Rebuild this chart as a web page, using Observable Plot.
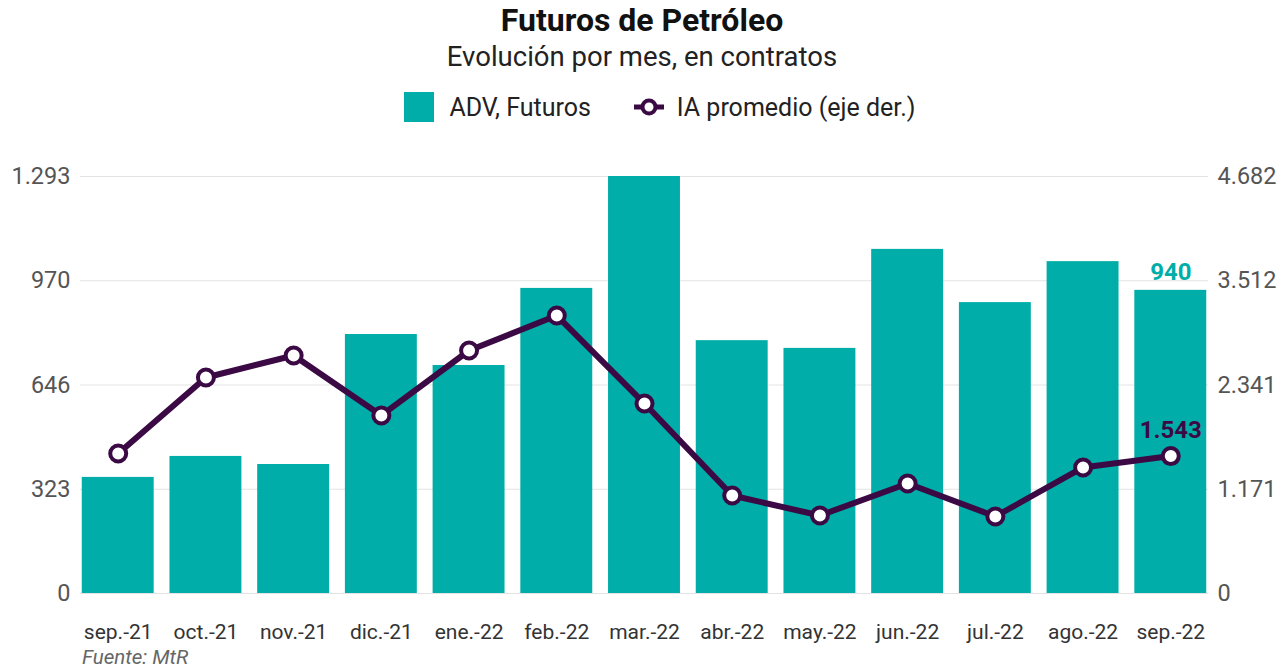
<!DOCTYPE html>
<html>
<head>
<meta charset="utf-8">
<script src="https://cdn.jsdelivr.net/npm/d3@7"></script>
<script src="https://cdn.jsdelivr.net/npm/@observablehq/plot@0.6"></script>
<style>
  body { margin: 0; background: #fff; font-family: Roboto, "Noto Sans", sans-serif; }
  #wrap { position: relative; width: 1284px; height: 667px; }
  #title { position: absolute; top: 1px; left: 0; width: 1284px; text-align: center; font-size: 32px; font-weight: 700; color: #111; }
  #subtitle { position: absolute; top: 40px; left: 0; width: 1284px; text-align: center; font-size: 27.5px; color: #222; }
  #legend { position: absolute; top: 92px; left: 18px; width: 1284px; display: flex; justify-content: center; align-items: center; font-size: 25px; color: #222; }
  .li { display: flex; align-items: center; margin: 0 21px; }
  .sw { width: 30px; height: 30px; background: #00ADA8; margin-right: 15px; }
  #chart { position: absolute; top: 130px; left: 0; }
  #caption { position: absolute; top: 645px; left: 82px; font-size: 20.5px; font-style: italic; color: #666; }
</style>
</head>
<body>
<div id="wrap">
  <div id="title">Futuros de Petróleo</div>
  <div id="subtitle">Evolución por mes, en contratos</div>
  <div id="legend">
    <div class="li"><div class="sw"></div><span>ADV, Futuros</span></div>
    <div class="li"><svg width="32" height="20" style="margin-right:12px"><line x1="1" y1="10" x2="31" y2="10" stroke="#3B0A45" stroke-width="5"/><circle cx="16" cy="10" r="6.5" fill="#fff" stroke="#3B0A45" stroke-width="4"/></svg><span>IA promedio (eje der.)</span></div>
  </div>
  <div id="chart"></div>
  <div id="caption">Fuente: MtR</div>
</div>
<script>
const months = ["sep.-21","oct.-21","nov.-21","dic.-21","ene.-22","feb.-22","mar.-22","abr.-22","may.-22","jun.-22","jul.-22","ago.-22","sep.-22"];
const adv = [360, 425, 400, 803, 707, 946, 1293, 784, 760, 1067, 902, 1029, 940];
const ia = [1572, 2425, 2672, 1999, 2728, 3121, 2133, 1100, 876, 1235, 865, 1415, 1543];
const leftMax = 1293;
const rightMax = 4682;
const leftTickLabels = ["0","323","646","970","1.293"];
const rightTickLabels = ["0","1.171","2.341","3.512","4.682"];

const teal = "#00ADA8";
const purple = "#3B0A45";
const fmt = d3.formatLocale({decimal: ",", thousands: ".", grouping: [3], currency: ["", ""]}).format(",.0f");

const data = months.map((m, i) => ({month: m, adv: adv[i], ia: ia[i], iaL: ia[i] * leftMax / rightMax}));
const tickPos = leftTickLabels.map((_, i) => leftMax * i / 4);
const last = data[data.length - 1];

const chart = Plot.plot({
  width: 1284,
  height: 515,
  marginTop: 46,
  marginBottom: 52,
  marginLeft: 80,
  marginRight: 76,
  style: {fontFamily: "Roboto, 'Noto Sans', sans-serif", background: "#fff"},
  x: {domain: months, paddingInner: 0.18, paddingOuter: 0.02, round: false},
  y: {domain: [0, leftMax]},
  marks: [
    Plot.ruleY(tickPos, {stroke: "#e3e3e3", strokeWidth: 1.2}),
    Plot.barY(data, {x: "month", y: "adv", fill: teal}),
    Plot.axisY({anchor: "left", ticks: tickPos, tickSize: 0, tickPadding: 10, tickFormat: (d, i) => leftTickLabels[i], fontSize: 23.5, color: "#555", label: null}),
    Plot.axisY({anchor: "right", ticks: tickPos, tickSize: 0, tickPadding: 9, tickFormat: (d, i) => rightTickLabels[i], fontSize: 23.5, color: "#555", label: null}),
    Plot.axisX({tickSize: 0, tickPadding: 31, fontSize: 21, color: "#333", label: null}),
    Plot.line(data, {x: "month", y: "iaL", stroke: purple, strokeWidth: 6, strokeLinejoin: "round"}),
    Plot.dot(data, {x: "month", y: "iaL", r: 8, fill: "#fff", stroke: purple, strokeWidth: 4}),
    Plot.text([last], {x: "month", y: "adv", text: d => fmt(d.adv), dy: -18, fill: teal, fontSize: 24, fontWeight: "bold"}),
    Plot.text([last], {x: "month", y: "iaL", text: d => fmt(d.ia), dy: -26, fill: purple, fontSize: 24, fontWeight: "bold"})
  ]
});
document.getElementById("chart").appendChild(chart);
</script>
</body>
</html>
